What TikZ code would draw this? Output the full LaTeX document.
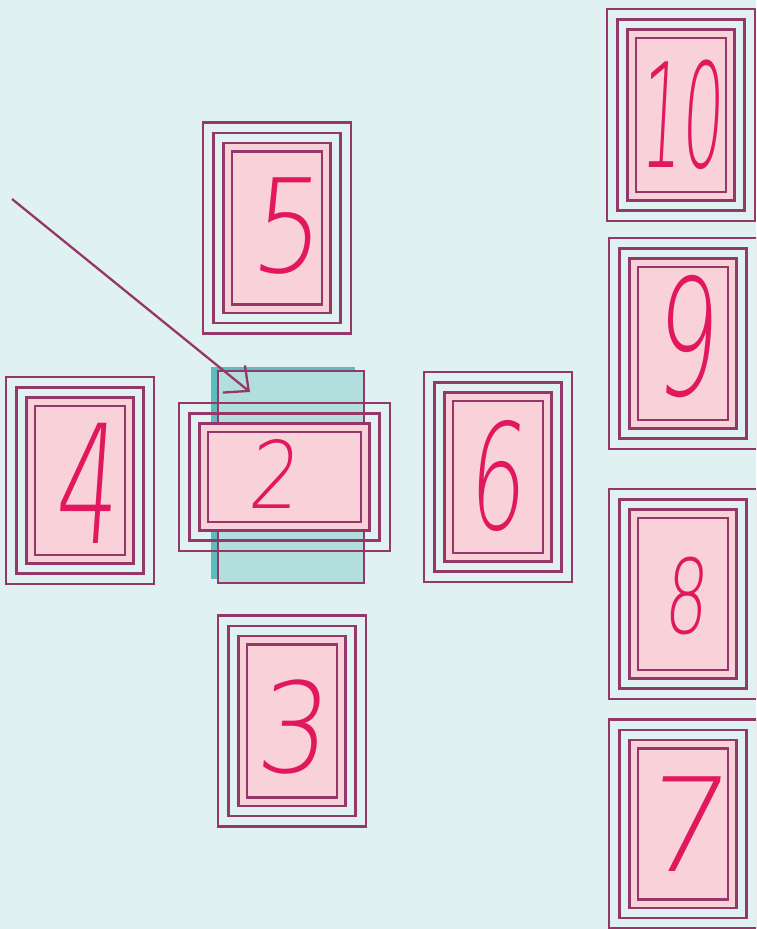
\documentclass[tikz,border=0pt]{standalone}
\usepackage{fontspec}
\newfontfamily\handfont[FakeSlant=0.12]{DejaVu Sans ExtraLight}
\usetikzlibrary{arrows.meta}
\definecolor{bgc}{RGB}{223,241,241}
\definecolor{framec}{RGB}{150,55,105}
\definecolor{pinkc}{RGB}{249,209,217}
\definecolor{digitc}{RGB}{226,24,95}
\definecolor{tealL}{RGB}{179,222,222}
\definecolor{tealD}{RGB}{93,189,189}
\tikzset{
  frame/.style={rectangle, draw=framec, line width=2.3pt, inner sep=0pt, outer sep=0pt},
  pinkframe/.style={frame, fill=pinkc},
  digit/.style={text=digitc, inner sep=0pt, outer sep=0pt, font=\handfont},
  pointer/.style={draw=framec, line width=2.3pt, -{Straight Barb[length=19pt, width=35pt, line width=2.3pt]}},
}
% name, cx, cy, w, h, dx, dy, size, digit
\newcommand\drawcard[9]{%
  \node[frame, minimum width=#4, minimum height=#5] (#1) at (#2,#3) {};
  \node[frame, minimum width=#4-21, minimum height=#5-21] (#1-b) at (#1) {};
  \node[pinkframe, minimum width=#4-41, minimum height=#5-41] (#1-c) at (#1) {};
  \node[frame, minimum width=#4-58, minimum height=#5-58] (#1-d) at (#1) {};
  \node[digit] (#1-t) at (#6,#7) {\fontsize{#8}{#8}\selectfont #9};
}
\begin{document}
\begin{tikzpicture}[x=1pt, y=-1pt]
\useasboundingbox (0,0) rectangle (756,929);
\fill[bgc] (0,0) rectangle (756,929);
\clip (0,0) rectangle (756,929);

% teal card underneath
\node[rectangle, fill=tealD, inner sep=0pt, minimum width=144, minimum height=212] (tealshadow) at (283,473) {};
\node[rectangle, fill=tealL, draw=framec, line width=2.3pt, inner sep=0pt, minimum width=146, minimum height=212] (teal) at (291,477) {};

\drawcard{c2}{284.5}{477}{211}{148}{273}{474}{93}{\scalebox{0.85}[1]{2}}
\drawcard{c5}{277}{228}{148}{211}{285}{226}{130}{\scalebox{0.85}[1]{5}}
\drawcard{c4}{80}{480.5}{148}{207}{85}{483}{165}{\scalebox{0.6}[1]{4}}
\drawcard{c6}{498}{477}{148}{210}{496}{476}{147}{\scalebox{0.6}[1]{6}}
\drawcard{c3}{292}{721}{148}{211}{290}{727}{125}{\scalebox{0.9}[1]{3}}
\drawcard{c10}{681}{115}{148}{212}{681}{115}{145}{\scalebox{0.45}[1]{10}}
\drawcard{c9}{683}{343.5}{148}{211}{684}{337}{162}{\scalebox{0.6}[1]{9}}
\drawcard{c8}{683}{594}{148}{210}{685}{596}{103}{\scalebox{0.65}[1]{8}}
\drawcard{c7}{683}{824}{148}{209}{683}{824}{130}{7}

\coordinate (astart) at (12,199);
\coordinate (atip) at (250,392);
\draw[pointer] (astart) -- (atip);
\end{tikzpicture}
\end{document}
